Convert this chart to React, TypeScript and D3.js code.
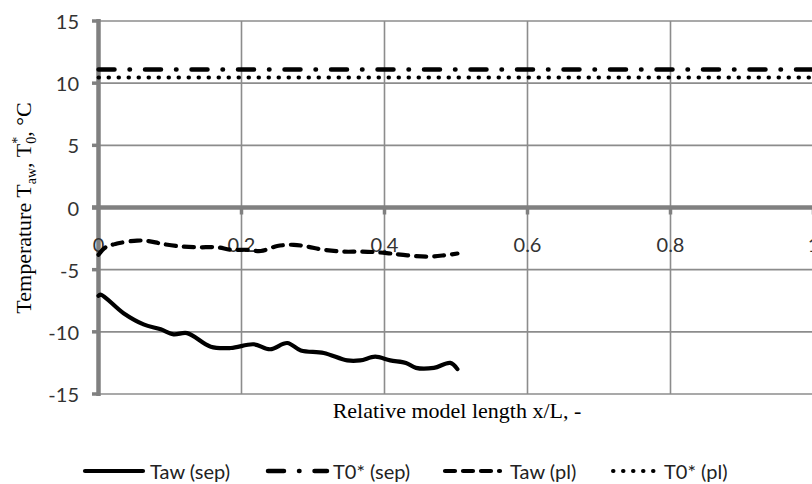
import React from 'react';
import * as d3 from 'd3';

const xTicks = [0, 0.2, 0.4, 0.6, 0.8, 1];
const xTickLabels = ['0', '0.2', '0.4', '0.6', '0.8', '1'];
const yTicks = [-15, -10, -5, 0, 5, 10, 15];
const yTickLabels = ['-15', '-10', '-5', '0', '5', '10', '15'];

const tawSepX = [0, 0.003, 0.035, 0.063, 0.087, 0.105, 0.124, 0.157, 0.185, 0.217, 0.24, 0.264, 0.283, 0.315, 0.348, 0.366, 0.387, 0.408, 0.43, 0.444, 0.469, 0.492, 0.502];
const tawSepY = [-7.1, -7.0, -8.5, -9.4, -9.8, -10.2, -10.1, -11.2, -11.3, -11.0, -11.4, -10.9, -11.5, -11.7, -12.3, -12.3, -12.0, -12.3, -12.5, -12.9, -12.9, -12.5, -13.0];

const tawPlX = [0, 0.01, 0.026, 0.054, 0.07, 0.087, 0.11, 0.138, 0.166, 0.185, 0.208, 0.227, 0.25, 0.273, 0.292, 0.315, 0.343, 0.366, 0.39, 0.408, 0.432, 0.46, 0.483, 0.502];
const tawPlY = [-3.8, -3.2, -2.9, -2.66, -2.7, -2.9, -3.1, -3.2, -3.2, -3.4, -3.4, -3.5, -3.1, -3.0, -3.15, -3.4, -3.55, -3.55, -3.6, -3.7, -3.85, -3.95, -3.85, -3.7];

const t0SepX = [0, 1];
const t0SepY = [11.1, 11.1];
const t0PlX = [0, 1];
const t0PlY = [10.45, 10.45];

const legendNames = ['Taw (sep)', 'T0* (sep)', 'Taw (pl)', 'T0* (pl)'];

const W = 812;
const H = 484;

export default function App() {
  const x = d3.scaleLinear().domain([0, 1]).range([98.5, 813.5]);
  const y = d3.scaleLinear().domain([-15, 15]).range([394, 21]);
  const line = d3.line<[number, number]>().x(d => x(d[0])).y(d => y(d[1])).curve(d3.curveCatmullRom.alpha(0.5));
  const mk = (xs: number[], ys: number[]) => xs.map((v, i) => [v, ys[i]] as [number, number]);

  const styles = [
    { dash: undefined, cap: 'round' as const, w: 4.2 },
    { dash: '16,15,0.5,15', cap: 'round' as const, w: 4.5 },
    { dash: '10,8', cap: 'round' as const, w: 4.2 },
    { dash: '0.5,9.5', cap: 'round' as const, w: 4 },
  ];
  const series = [mk(tawSepX, tawSepY), mk(t0SepX, t0SepY), mk(tawPlX, tawPlY), mk(t0PlX, t0PlY)];

  const legendSym = [[85, 143], [268, 327], [445, 500], [613, 659]];
  const legendText = [150, 333, 510, 664];
  const ly = 471;

  const y0 = y(0);
  const sans = 'Lato, "Open Sans", sans-serif';
  const serif = '"Liberation Serif", "Times New Roman", serif';

  return (
    <div style={{ position: 'absolute', left: 0, top: 0 }}>
      <svg width={W} height={H} style={{ display: 'block', background: '#fff' }}>
        {yTicks.filter(t => t !== 0).map(t => (
          <line key={'gy' + t} x1={x(0)} x2={W + 5} y1={y(t)} y2={y(t)} stroke="#8c8c8c" strokeWidth={1.6} />
        ))}
        {xTicks.filter(t => t !== 0).map(t => (
          <line key={'gx' + t} x1={x(t)} x2={x(t)} y1={y(15)} y2={y(-15)} stroke="#8c8c8c" strokeWidth={1.6} />
        ))}
        <line x1={x(0)} x2={x(0)} y1={y(15) - 2} y2={y(-15) + 2} stroke="#808080" strokeWidth={4.5} />
        {yTicks.map(t => (
          <line key={'ty' + t} x1={92} x2={x(0)} y1={y(t)} y2={y(t)} stroke="#808080" strokeWidth={3.5} />
        ))}
        <line x1={92} x2={W + 5} y1={y0} y2={y0} stroke="#808080" strokeWidth={4.5} />
        {xTicks.filter(t => t !== 0).map(t => (
          <line key={'tx' + t} x1={x(t)} x2={x(t)} y1={y0} y2={y0 + 7} stroke="#808080" strokeWidth={3.5} />
        ))}
        {yTicks.map((t, i) => (
          <text key={'ly' + t} x={79} y={y(t)} textAnchor="end" dominantBaseline="central" fontFamily={sans} fontSize={20} fill="#333">{yTickLabels[i]}</text>
        ))}
        {xTicks.map((t, i) => (
          <text key={'lx' + t} x={x(t)} y={244} textAnchor="middle" dominantBaseline="central" fontFamily={sans} fontSize={20} fill="#333">{xTickLabels[i]}</text>
        ))}
        {series.map((s, i) => (
          <path key={'s' + i} d={line(s) || ''} fill="none" stroke="#000" strokeWidth={styles[i].w}
            strokeDasharray={styles[i].dash} strokeLinecap={styles[i].cap} strokeLinejoin="round" />
        ))}
        <text x={457} y={418} textAnchor="middle" fontFamily={serif} fontSize={22} fill="#000">Relative model length x/L, -</text>
        <text transform="translate(31,208) rotate(-90)" textAnchor="middle" fontFamily={serif} fontSize={22} fill="#000">
          Temperature T<tspan dy={5} fontSize={14}>aw</tspan><tspan dy={-5}>, T</tspan><tspan dy={5} fontSize={14}>0</tspan><tspan dx={-7} dy={-14} fontSize={14}>*</tspan><tspan dy={9}>, °C</tspan>
        </text>
        {legendNames.map((n, i) => (
          <g key={'lg' + i}>
            <line x1={legendSym[i][0]} x2={legendSym[i][1]} y1={ly} y2={ly} stroke="#000" strokeWidth={styles[i].w}
              strokeDasharray={styles[i].dash} strokeLinecap={styles[i].cap} />
            <text x={legendText[i]} y={ly} dominantBaseline="central" fontFamily={sans} fontSize={20} fill="#222">{n}</text>
          </g>
        ))}
      </svg>
    </div>
  );
}
